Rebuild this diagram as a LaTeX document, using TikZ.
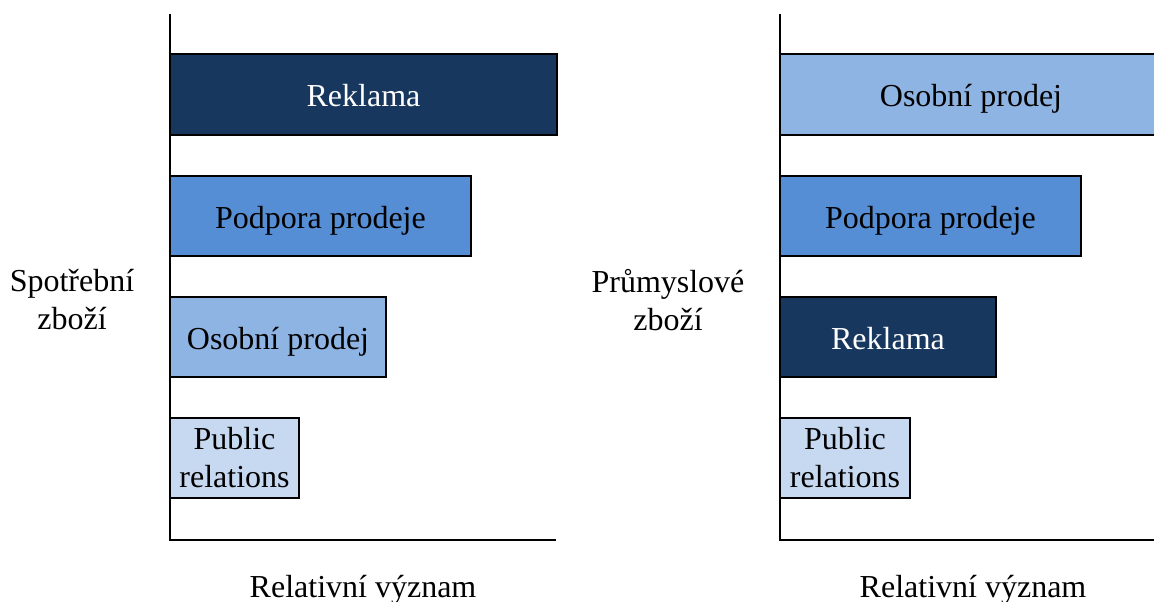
\documentclass[tikz,border=0pt]{standalone}
\usepackage{fontspec}
\setmainfont{Liberation Serif}
\definecolor{cdark}{RGB}{23,55,94}
\definecolor{cmid}{RGB}{85,142,213}
\definecolor{clight}{RGB}{142,180,227}
\definecolor{cpale}{RGB}{198,217,241}
\begin{document}
\begin{tikzpicture}[x=1pt,y=-1pt,
  bar/.style={draw=black, line width=2pt, anchor=west, inner sep=0pt, minimum height=80pt, align=center, font=\fontsize{32}{38}\selectfont},
  onebar/.style={bar, text height=24pt, text depth=0pt},
  lbl/.style={align=center, inner sep=0pt, font=\fontsize{32}{38}\selectfont},
  axis/.style={draw=black, line width=2pt}]
\useasboundingbox (0,0) rectangle (1154,602);
\clip (0,0) rectangle (1154,602);
% left panel
\coordinate (ltop) at (170,14);
\coordinate (lorig) at (170,540);
\coordinate (lend) at (556,540);
\draw[axis] (ltop) -- (lorig) -- (lend);
\node[onebar, fill=cdark, text=white, minimum width=387pt] (l1) at (169,94.5) {Reklama};
\node[onebar, fill=cmid, minimum width=301pt] (l2) at (169,216) {Podpora prodeje};
\node[onebar, fill=clight, minimum width=216pt] (l3) at (169,337) {Osobní prodej};
\node[bar, fill=cpale, minimum width=129pt] (l4) at (169,458) {Public\\relations};
\node[lbl] (ly) at (72,300) {Spotřební\\zboží};
\node[lbl, anchor=base] (lx) at (363,597) {Relativní význam};
% right panel
\coordinate (rtop) at (780,14);
\coordinate (rorig) at (780,540);
\coordinate (rend) at (1160,540);
\draw[axis] (rtop) -- (rorig) -- (rend);
\node[onebar, fill=clight, minimum width=400pt] (r1) at (779,94.5) {\hspace*{-18pt}Osobní prodej};
\node[onebar, fill=cmid, minimum width=301pt] (r2) at (779,216) {Podpora prodeje};
\node[onebar, fill=cdark, text=white, minimum width=216pt] (r3) at (779,337) {Reklama};
\node[bar, fill=cpale, minimum width=130pt] (r4) at (779,458) {Public\\relations};
\node[lbl] (ry) at (668,300) {Průmyslové\\zboží};
\node[lbl, anchor=base] (rx) at (973,597) {Relativní význam};
\end{tikzpicture}
\end{document}
